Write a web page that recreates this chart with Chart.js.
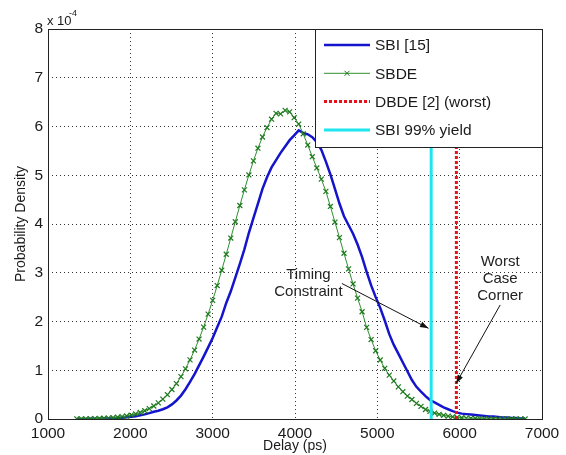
<!DOCTYPE html>
<html>
<head>
<meta charset="utf-8">
<script src="https://cdn.jsdelivr.net/npm/chart.js@4.4.0/dist/chart.umd.min.js"></script>
<style>
html, body { margin: 0; padding: 0; background: #fff; }
#wrap { width: 566px; height: 455px; }
</style>
</head>
<body>
<div id="wrap"><canvas id="chart"></canvas></div>
<script>
// delay grid (ps)
const delays = [
  1350,1405,1460,1515,1570,1625,1680,1735,1790,1845,
  1900,1955,2010,2065,2120,2175,2230,2285,2340,2395,
  2450,2505,2560,2615,2670,2725,2780,2835,2890,2945,
  3000,3055,3110,3165,3220,3275,3330,3385,3440,3495,
  3550,3605,3660,3715,3770,3825,3880,3935,3990,4045,
  4100,4155,4210,4265,4320,4375,4430,4485,4540,4595,
  4650,4705,4760,4815,4870,4925,4980,5035,5090,5145,
  5200,5255,5310,5365,5420,5475,5530,5585,5640,5695,
  5750,5805,5860,5915,5970,6025,6080,6135,6190,6245,
  6300,6355,6410,6465,6520,6575,6630,6685,6740,6795
];

// probability density, units of 1e-4
const sbi = [
  0.000,0.001,0.002,0.003,0.004,0.006,0.008,0.011,0.015,0.020,
  0.027,0.035,0.045,0.058,0.075,0.095,0.12,0.15,0.17,0.20,
  0.24,0.30,0.38,0.48,0.61,0.76,0.92,1.10,1.28,1.47,
  1.66,1.88,2.10,2.38,2.62,2.90,3.18,3.48,3.82,4.12,
  4.42,4.72,4.96,5.16,5.31,5.46,5.59,5.72,5.82,5.92,
  5.87,5.84,5.78,5.68,5.52,5.28,5.02,4.72,4.42,4.16,
  3.98,3.80,3.58,3.32,3.02,2.74,2.50,2.28,2.02,1.74,
  1.52,1.34,1.16,0.98,0.80,0.66,0.56,0.47,0.39,0.34,
  0.29,0.24,0.20,0.16,0.13,0.11,0.10,0.09,0.08,0.07,
  0.06,0.05,0.05,0.04,0.03,0.03,0.02,0.02,0.01,0.01
];

const sbde = [
  0.002,0.003,0.004,0.006,0.008,0.011,0.015,0.020,0.027,0.036,
  0.048,0.062,0.081,0.104,0.133,0.169,0.213,0.267,0.331,0.408,
  0.498,0.605,0.727,0.869,1.030,1.213,1.414,1.640,1.885,2.151,
  2.434,2.737,3.052,3.379,3.712,4.046,4.379,4.700,5.006,5.295,
  5.555,5.785,5.978,6.150,6.270,6.260,6.330,6.300,6.180,6.050,
  5.85,5.62,5.38,5.15,4.92,4.67,4.36,4.04,3.72,3.40,
  3.08,2.77,2.48,2.20,1.88,1.63,1.40,1.21,1.04,0.90,
  0.78,0.66,0.56,0.47,0.40,0.32,0.26,0.195,0.155,0.122,
  0.096,0.075,0.058,0.045,0.034,0.026,0.019,0.014,0.011,0.008,
  0.006,0.004,0.003,0.002,0.002,0.001,0.001,0.001,0.000,0.000
];

// vertical markers
const worstDelay = [5960, 5960];
const yieldDelay = [5654, 5654];
const lineSpan = [0, 8];

// annotation text and arrows (data units)
const noteText = ['Timing', 'Constraint', 'Worst', 'Case', 'Corner'];
const noteX = [4163, 4163, 6492, 6492, 6492];
const noteY = [2.95, 2.61, 3.23, 2.87, 2.52];
const arrowFrom = [[4569, 2.78], [6492, 2.34]];
const arrowTo = [[5621, 1.86], [5957, 0.73]];

const FONT = '"Liberation Sans", Arial, sans-serif';

function toPoints(xs, ys) {
  return xs.map((v, i) => ({x: v, y: ys[i]}));
}

const extras = {
  id: 'extras',
  afterDatasetsDraw(chart) {
    const {ctx, chartArea: a, scales: {x, y}} = chart;
    ctx.save();

    // arrows
    ctx.strokeStyle = '#111';
    ctx.fillStyle = '#111';
    ctx.lineWidth = 1;
    arrowFrom.forEach((f, i) => {
      const x1 = x.getPixelForValue(f[0]), y1 = y.getPixelForValue(f[1]);
      const x2 = x.getPixelForValue(arrowTo[i][0]), y2 = y.getPixelForValue(arrowTo[i][1]);
      ctx.beginPath();
      ctx.moveTo(x1, y1);
      ctx.lineTo(x2, y2);
      ctx.stroke();
      const ang = Math.atan2(y2 - y1, x2 - x1);
      ctx.beginPath();
      ctx.moveTo(x2, y2);
      ctx.lineTo(x2 - 9 * Math.cos(ang - 0.33), y2 - 9 * Math.sin(ang - 0.33));
      ctx.lineTo(x2 - 9 * Math.cos(ang + 0.33), y2 - 9 * Math.sin(ang + 0.33));
      ctx.closePath();
      ctx.fill();
    });

    // annotation text
    ctx.font = '15px ' + FONT;
    ctx.fillStyle = '#222';
    ctx.textAlign = 'center';
    ctx.textBaseline = 'middle';
    noteText.forEach((t, i) => {
      ctx.fillText(t, x.getPixelForValue(noteX[i]), y.getPixelForValue(noteY[i]));
    });

    // legend box, top right corner of the axes
    const lw = 227, lh = 118;
    const lx = a.right - lw, ly = a.top;
    ctx.fillStyle = '#fff';
    ctx.fillRect(lx, ly, lw, lh);
    ctx.strokeStyle = '#222';
    ctx.lineWidth = 1;
    ctx.strokeRect(lx + 0.5, ly + 0.5, lw, lh);
    ctx.font = '15.5px ' + FONT;
    ctx.textAlign = 'left';
    chart.data.datasets.forEach((ds, i) => {
      const ry = ly + 16 + i * 28.3;
      ctx.save();
      ctx.strokeStyle = ds.borderColor;
      ctx.lineWidth = ds.borderWidth;
      ctx.setLineDash(ds.borderDash || []);
      ctx.beginPath();
      ctx.moveTo(lx + 9, ry);
      ctx.lineTo(lx + 55, ry);
      ctx.stroke();
      if (ds.pointRadius) {
        ctx.setLineDash([]);
        ctx.lineWidth = 1;
        ctx.strokeStyle = ds.pointBorderColor;
        const cx = lx + 32, r = 2.5;
        ctx.beginPath();
        ctx.moveTo(cx - r, ry - r); ctx.lineTo(cx + r, ry + r);
        ctx.moveTo(cx - r, ry + r); ctx.lineTo(cx + r, ry - r);
        ctx.stroke();
      }
      ctx.restore();
      ctx.fillStyle = '#1a1a1a';
      ctx.fillText(ds.label, lx + 60, ry + 1);
    });

    // axes frame
    ctx.strokeStyle = '#222';
    ctx.lineWidth = 1;
    ctx.strokeRect(a.left + 0.5, a.top + 0.5, a.right - a.left, a.bottom - a.top);

    // exponent label
    ctx.fillStyle = '#1a1a1a';
    ctx.textAlign = 'left';
    ctx.textBaseline = 'alphabetic';
    ctx.font = '13px ' + FONT;
    ctx.fillText('x 10', a.left - 1, a.top - 4);
    ctx.font = '9px ' + FONT;
    ctx.fillText('-4', a.left + 21, a.top - 13);

    ctx.restore();
  }
};

const gridStyle = {color: '#333', lineWidth: 1, drawTicks: false};
const borderStyle = {display: false, dash: [1, 3]};

new Chart(document.getElementById('chart').getContext('2d'), {
  type: 'line',
  data: {
    datasets: [
      {
        label: 'SBI [15]',
        data: toPoints(delays, sbi),
        borderColor: '#1414cc',
        borderWidth: 2.5,
        pointRadius: 0,
        order: 4
      },
      {
        label: 'SBDE',
        data: toPoints(delays, sbde),
        borderColor: '#2f8f2f',
        borderWidth: 1,
        pointStyle: 'crossRot',
        pointRadius: 3.5,
        pointBorderWidth: 1.2,
        pointBorderColor: '#1e7a1e',
        order: 3
      },
      {
        label: 'DBDE [2] (worst)',
        data: toPoints(worstDelay, lineSpan),
        borderColor: '#e8101a',
        borderWidth: 3,
        borderDash: [3, 2],
        pointRadius: 0,
        order: 2
      },
      {
        label: 'SBI 99% yield',
        data: toPoints(yieldDelay, lineSpan),
        borderColor: '#1ee6f0',
        borderWidth: 3,
        pointRadius: 0,
        order: 1
      }
    ]
  },
  options: {
    responsive: true,
    maintainAspectRatio: false,
    animation: false,
    layout: {padding: {top: 29, right: 24, left: 0, bottom: 0}},
    plugins: {legend: {display: false}, tooltip: {enabled: false}},
    scales: {
      x: {
        type: 'linear',
        min: 1000,
        max: 7000,
        ticks: {stepSize: 1000, padding: 5, color: '#1a1a1a', font: {family: FONT, size: 15.5},
          callback: value => String(value)},
        grid: gridStyle,
        border: borderStyle,
        title: {display: true, text: 'Delay (ps)', color: '#1a1a1a', font: {family: FONT, size: 14}, padding: 0},
        afterFit(scale) { scale.height = 36; }
      },
      y: {
        min: 0,
        max: 8,
        ticks: {stepSize: 1, padding: 5, color: '#1a1a1a', font: {family: FONT, size: 15.5},
          callback: value => String(value)},
        grid: gridStyle,
        border: borderStyle,
        title: {display: true, text: 'Probability Density', color: '#1a1a1a', font: {family: FONT, size: 14}, padding: {top: 13}},
        afterFit(scale) { scale.width = 48; }
      }
    }
  },
  plugins: [extras]
});
</script>
</body>
</html>
